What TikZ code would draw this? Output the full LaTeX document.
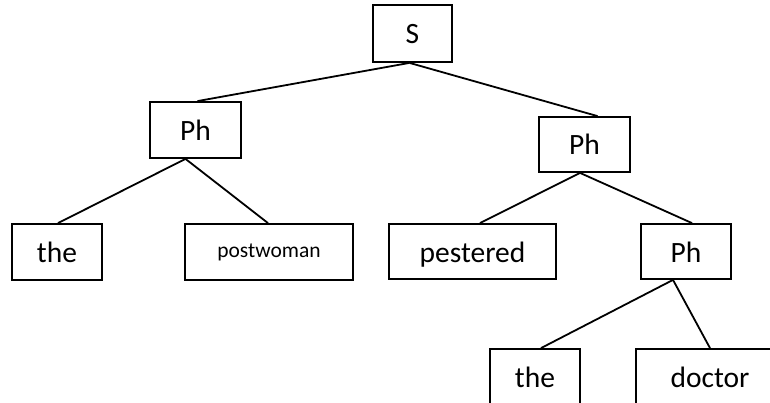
\documentclass[tikz,border=0pt]{standalone}
\usepackage{fontspec}
\setmainfont{Carlito}
\begin{document}
\begin{tikzpicture}[x=1pt,y=-1pt,
  box/.style={draw,line width=1.8pt,inner sep=0pt,text height=21pt,text depth=0pt,
    font=\fontsize{29.5}{34}\selectfont},
  smallbox/.style={box,text height=15pt,text depth=5pt,font=\fontsize{21.5}{25}\selectfont},
  edge/.style={line width=1.8pt}]
  \useasboundingbox (0,0) rectangle (770,403);
  \clip (0,0) rectangle (770,403);
  % tree nodes
  \node[box,minimum width=79pt,minimum height=57pt] (s) at (412.5,33.5) {S};
  \node[box,minimum width=91pt,minimum height=56pt] (ph1) at (195.5,130) {Ph};
  \node[box,minimum width=91pt,minimum height=55pt] (ph2) at (584.5,144.5) {Ph};
  \node[box,minimum width=90pt,minimum height=56pt] (the1) at (57,252) {the};
  \node[smallbox,minimum width=168pt,minimum height=56pt] (post) at (269,252) {postwoman};
  \node[box,minimum width=167pt,minimum height=55pt] (pest) at (472.5,251.5) {pestered};
  \node[box,minimum width=90pt,minimum height=55pt] (ph3) at (686,251.5) {Ph};
  \node[box,minimum width=90pt,minimum height=56pt] (the2) at (535,377) {the};
  \node[box,minimum width=148pt,minimum height=56pt] (doc) at (710,377) {doctor};
  % branches
  \draw[edge] ([xshift=-3pt]s.south) -- ([xshift=2pt]ph1.north);
  \draw[edge] ([xshift=-3pt]s.south) -- ([xshift=13pt]ph2.north);
  \draw[edge] ([xshift=-10pt]ph1.south) -- ([xshift=1pt]the1.north);
  \draw[edge] ([xshift=-10pt]ph1.south) -- ([xshift=-1pt]post.north);
  \draw[edge] ([xshift=-4.5pt]ph2.south) -- ([xshift=7.5pt]pest.north);
  \draw[edge] ([xshift=-4.5pt]ph2.south) -- ([xshift=6pt]ph3.north);
  \draw[edge] ([xshift=-13pt]ph3.south) -- ([xshift=6pt]the2.north);
  \draw[edge] ([xshift=-13pt]ph3.south) -- (doc.north);
\end{tikzpicture}
\end{document}
